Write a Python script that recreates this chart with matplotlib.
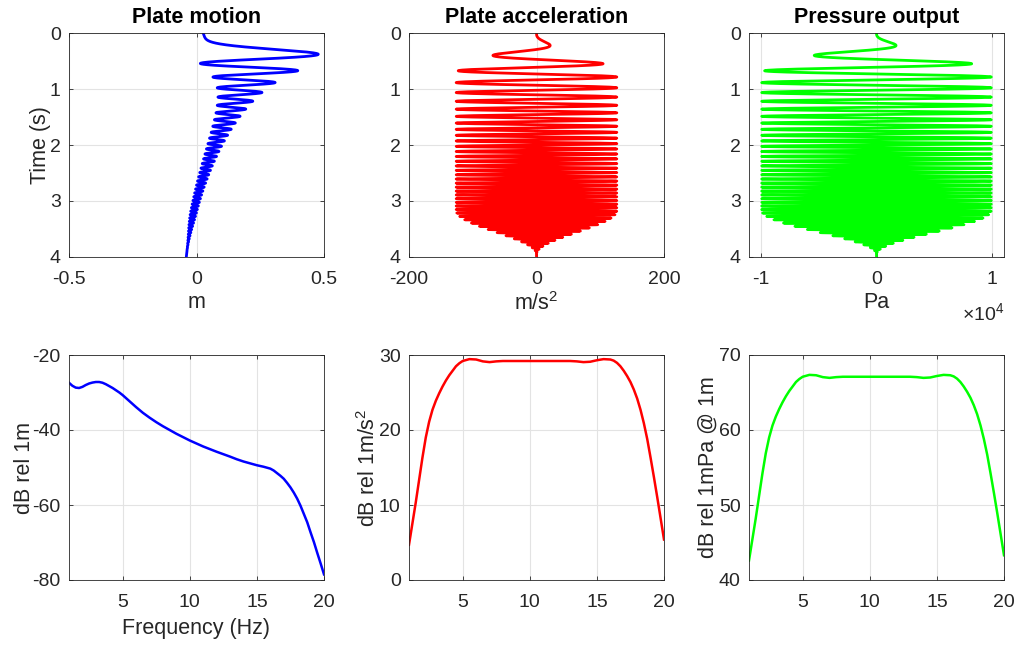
"""
Plate source sweep: time series of plate motion, acceleration and radiated
pressure (top row) and their spectra (bottom row).
"""

import numpy as np
import matplotlib
matplotlib.use("Agg")
import matplotlib.pyplot as plt

plt.rcParams["font.family"] = ["Liberation Sans", "DejaVu Sans"]
plt.rcParams["mathtext.fontset"] = "custom"
plt.rcParams["mathtext.rm"] = "Liberation Sans"
plt.rcParams["mathtext.it"] = "Liberation Sans"
plt.rcParams["mathtext.bf"] = "Liberation Sans:bold"
plt.rcParams["axes.unicode_minus"] = False

# sweep settings
fs = 1000.0
duration = 4.0
f_start = 1.0
f_stop = 20.0
accel_peak = 126.0          # m/s^2
ramp_up_end = 0.75          # s
ramp_down = (3.17, 3.95)    # s
pa_per_accel = 78.6         # Pa per m/s^2 at 1 m

# plate position at start / end of the sweep and slow acceleration bias
disp_start = 0.026          # m
disp_end = -0.04            # m
accel_bias = 0.033          # m/s^2

# spectra (Hz, dB)
freq = [1.0, 1.25, 1.5, 1.75, 2.0, 2.25, 2.5, 2.75, 3.0, 3.25, 3.5, 3.75,
        4.0, 4.25, 4.5, 4.75, 5.0, 5.5, 6.0, 6.5, 7.0, 7.5, 8.0, 9.0, 10.0,
        11.0, 12.0, 13.0, 13.5, 14.0, 14.5, 15.0, 15.5, 16.0, 16.25, 16.5,
        16.75, 17.0, 17.25, 17.5, 17.75, 18.0, 18.25, 18.5, 18.75, 19.0,
        19.25, 19.5, 19.75, 20.0]
motion_db = [-27.4, -28.2, -28.7, -28.8, -28.5, -28.0, -27.6, -27.35, -27.2,
             -27.2, -27.4, -27.8, -28.3, -28.8, -29.4, -30.0, -30.7, -32.3,
             -33.9, -35.4, -36.7, -37.9, -39.0, -41.0, -42.8, -44.4, -45.8,
             -47.1, -47.8, -48.4, -48.9, -49.4, -49.8, -50.3, -50.8, -51.5,
             -52.2, -53.0, -54.1, -55.3, -56.7, -58.3, -60.2, -62.4, -64.6,
             -67.3, -69.9, -72.8, -75.6, -78.5]
accel_db = [4.7, 7.5, 10.3, 13.3, 16.3, 19.0, 21.1, 22.7, 23.9, 24.9, 25.8,
            26.6, 27.3, 27.9, 28.5, 28.9, 29.2, 29.45, 29.4, 29.15, 29.05,
            29.15, 29.2, 29.2, 29.2, 29.2, 29.2, 29.2, 29.15, 29.05, 29.1,
            29.3, 29.45, 29.4, 29.25, 28.95, 28.5, 27.9, 27.2, 26.4, 25.4,
            24.2, 22.7, 20.9, 18.8, 16.3, 13.7, 11.0, 8.2, 5.4]
pressure_db = [42.6, 45.4, 48.2, 51.2, 54.2, 56.9, 59.0, 60.6, 61.8, 62.8,
               63.7, 64.5, 65.2, 65.8, 66.4, 66.8, 67.1, 67.35, 67.3, 67.05,
               66.95, 67.05, 67.1, 67.1, 67.1, 67.1, 67.1, 67.1, 67.05, 66.95,
               67.0, 67.2, 67.35, 67.3, 67.15, 66.85, 66.4, 65.8, 65.1, 64.3,
               63.3, 62.1, 60.6, 58.8, 56.7, 54.2, 51.6, 48.9, 46.1, 43.3]

# linear sweep with cosine ramps
t = np.arange(0, duration + 1 / fs, 1 / fs)
rate = (f_stop - f_start) / duration
phase = 2 * np.pi * (f_start * t + 0.5 * rate * t ** 2)
env = np.ones_like(t)
up = t < ramp_up_end
env[up] = 0.5 * (1 - np.cos(np.pi * t[up] / ramp_up_end))
down = t > ramp_down[0]
u = np.clip((t[down] - ramp_down[0]) / (ramp_down[1] - ramp_down[0]), 0, 1)
env[down] = 0.5 * (1 + np.cos(np.pi * u))
accel = accel_peak * env * np.sin(phase)

# double integration, then pin start and end positions
vel = np.cumsum(accel) / fs
disp = np.cumsum(vel) / fs + 0.5 * accel_bias * t ** 2
disp = disp + disp_start + (disp_end - disp_start - disp[-1]) * t / duration
pressure = pa_per_accel * accel

W, H = 1016, 646
fig = plt.figure(figsize=(W / 100, H / 100), dpi=100)

lefts = [69, 409, 749]
width = 255


def make_axes(left, top, bottom):
    return fig.add_axes([left / W, 1 - bottom / H, width / W, (bottom - top) / H])


def style(ax):
    ax.tick_params(direction="in", length=3, width=0.6, labelsize=14,
                   top=True, right=True, colors="#262626")
    ax.tick_params(axis="x", pad=10)
    ax.tick_params(axis="y", pad=6)
    for s in ax.spines.values():
        s.set_color("#262626")
        s.set_linewidth(0.6)
    ax.grid(True, color="#e3e3e3", linewidth=0.8)
    ax.set_axisbelow(True)


lab = dict(fontsize=15.5, color="#262626")
ttl = dict(fontsize=15.5, fontweight="bold", color="black", pad=7)

top_axes = [make_axes(l, 33, 257) for l in lefts]
bot_axes = [make_axes(l, 355, 580) for l in lefts]

series = [(disp, "blue", "Plate motion", "m"),
          (accel, "red", "Plate acceleration", "m/s$^2$"),
          (pressure, "lime", "Pressure output", "Pa")]
xlims = [(-0.5, 0.5), (-200, 200), (-1.1e4, 1.1e4)]
xticks = [[-0.5, 0, 0.5], [-200, 0, 200], [-1e4, 0, 1e4]]

for ax, (y, c, title, xl), lim, tk in zip(top_axes, series, xlims, xticks):
    style(ax)
    ax.plot(y, t, color=c, linewidth=2)
    ax.set_xlim(lim)
    ax.set_ylim(4, 0)
    ax.set_yticks([0, 1, 2, 3, 4])
    ax.set_xticks(tk)
    ax.set_title(title, **ttl)
    ax.set_xlabel(xl, labelpad=3, **lab)

top_axes[0].set_xticklabels(["-0.5", "0", "0.5"])
top_axes[2].set_xticklabels(["-1", "0", "1"])
top_axes[0].set_ylabel("Time (s)", labelpad=-1, **lab)
top_axes[2].text(1.0, -0.25, r"$\times$10$^4$", transform=top_axes[2].transAxes,
                 ha="right", va="center", fontsize=14, color="#262626")

spectra = [(motion_db, "blue", "dB rel 1m", (-80, -20), [-80, -60, -40, -20], -2),
           (accel_db, "red", "dB rel 1m/s$^2$", (0, 30), [0, 10, 20, 30], -1),
           (pressure_db, "lime", "dB rel 1mPa @ 1m", (40, 70), [40, 50, 60, 70], 0)]

for ax, (db, c, yl, lim, tk, lp) in zip(bot_axes, spectra):
    style(ax)
    ax.plot(freq, db, color=c, linewidth=1.8)
    ax.set_xlim(1, 20)
    ax.set_ylim(lim)
    ax.set_xticks([5, 10, 15, 20])
    ax.set_yticks(tk)
    ax.set_ylabel(yl, labelpad=lp, **lab)

bot_axes[0].set_xlabel("Frequency (Hz)", labelpad=5, **lab)

fig.savefig("out.png", dpi=100)
